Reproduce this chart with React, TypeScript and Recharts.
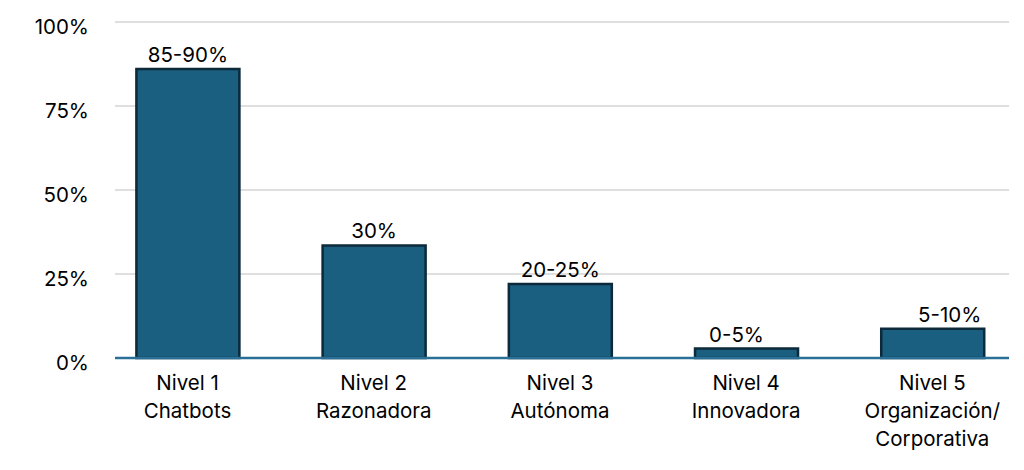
import React from "react";
import { BarChart, Bar, XAxis, YAxis, CartesianGrid, LabelList } from "recharts";

const categoryLines: string[][] = [
  ["Nivel 1", "Chatbots"],
  ["Nivel 2", "Razonadora"],
  ["Nivel 3", "Autónoma"],
  ["Nivel 4", "Innovadora"],
  ["Nivel 5", "Organización/", "Corporativa"],
];
const values: number[] = [0.86, 0.335, 0.22, 0.028, 0.087];
const valueLabels: string[] = ["85-90%", "30%", "20-25%", "0-5%", "5-10%"];
const yTicks: number[] = [0, 0.25, 0.5, 0.75, 1];

const data = values.map((v, i) => ({ idx: i, value: v, label: valueLabels[i] }));

const FONT = "Inter, 'Open Sans', 'Liberation Sans', Arial, sans-serif";
const LABEL_SHIFT = [0, 0, 0, -10, 17];

const CategoryTick = (props: any) => {
  const { x, y, payload } = props;
  const lines = categoryLines[payload.value] || [];
  return (
    <text x={x} y={y} textAnchor="middle" fontFamily={FONT} fontSize={20.5} fill="#000">
      {lines.map((l, i) => (
        <tspan key={i} x={x} y={y + 32 + i * 28}>
          {l}
        </tspan>
      ))}
    </text>
  );
};

const ValueLabel = (props: any) => {
  const { x, y, width, index, value } = props;
  return (
    <text
      x={x + width / 2 + (LABEL_SHIFT[index] || 0)}
      y={y - 7}
      textAnchor="middle"
      fontFamily={FONT}
      fontSize={20.5}
      fill="#000"
    >
      {value}
    </text>
  );
};

export default function App() {
  return (
    <div style={{ position: "absolute", left: 0, top: 0, width: 1024, height: 470, background: "#fff" }}>
      <BarChart width={1024} height={470} data={data} margin={{ top: 22, right: 15, bottom: 0, left: 0 }}>
        <CartesianGrid vertical={false} stroke="#bfbfbf" strokeWidth={1} />
        <XAxis
          type="number"
          dataKey="idx"
          domain={[-0.3894, 4.4117]}
          ticks={[0, 1, 2, 3, 4]}
          allowDataOverflow
          height={112}
          tickLine={false}
          tickSize={0}
          tickMargin={0}
          axisLine={{ stroke: "#2a6f96", strokeWidth: 2.5 }}
          tick={<CategoryTick />}
          interval={0}
        />
        <YAxis
          width={115}
          domain={[0, 1]}
          ticks={yTicks}
          axisLine={false}
          tickLine={false}
          tickSize={0}
          tickMargin={26}
          tickFormatter={(v: number) => `${Math.round(v * 100)}%`}
          tick={{ fontFamily: FONT, fontSize: 20.5, fill: "#000", dy: 5 }}
        />
        <Bar
          dataKey="value"
          barSize={103}
          fill="#1a5e80"
          stroke="#0c2a3a"
          strokeWidth={2.5}
          isAnimationActive={false}
        >
          <LabelList dataKey="label" content={<ValueLabel />} />
        </Bar>
      </BarChart>
    </div>
  );
}
